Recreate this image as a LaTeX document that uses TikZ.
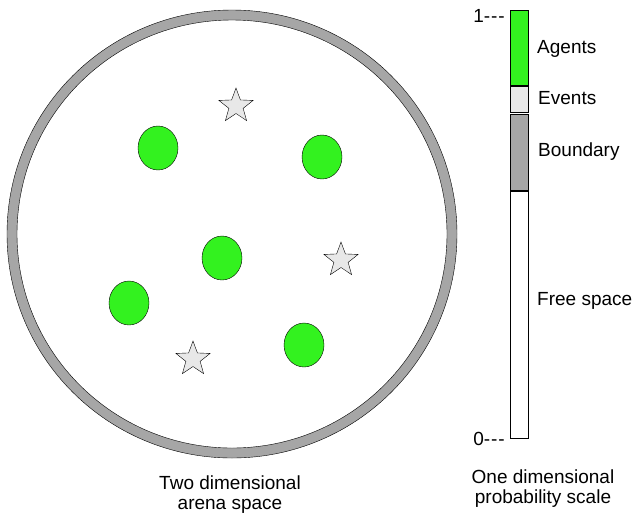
\documentclass[tikz,border=0pt]{standalone}
\usepackage{fontspec}
\setmainfont{Liberation Sans}
\usetikzlibrary{shapes.geometric,positioning}
\definecolor{agentgreen}{HTML}{33F21F}
\definecolor{eventgray}{HTML}{E8E8E8}
\definecolor{wallgray}{HTML}{A6A6A6}
\newcommand{\tick}{{-}\kern1pt{-}\kern1pt{-}}

\begin{document}
\begin{tikzpicture}[
  x=1pt, y=-1pt,
  node distance=1pt,
  agent/.style={ellipse, draw, fill=agentgreen, minimum width=40pt,
    minimum height=44pt, inner sep=0pt},
  event/.style={star, star points=5, star point ratio=2.4, draw,
    fill=eventgray, minimum size=36pt, inner sep=0pt},
  seg/.style={rectangle, draw, minimum width=18pt, inner sep=0pt},
  lbl/.style={font=\fontsize{19}{20}\selectfont, inner sep=0pt},
  caption/.style={lbl, align=center}
]
\useasboundingbox (0,0) rectangle (636,520);
% arena with its boundary ring
\draw[fill=wallgray, even odd rule] (232,234) ellipse [x radius=225, y radius=224]
  (232,234) ellipse [x radius=215, y radius=214];
\node[agent] (a1) at (158,148) {};
\node[agent] (a2) at (322,157) {};
\node[agent] (a3) at (222,258) {};
\node[agent] (a4) at (129,303) {};
\node[agent] (a5) at (304,345) {};
\node[event] (e1) at (236,106) {};
\node[event] (e2) at (341,260) {};
\node[event] (e3) at (193,359) {};
% probability scale
\node[seg, fill=agentgreen, minimum height=75pt, anchor=north] (sAgents) at (519,10) {};
\node[seg, fill=eventgray, minimum height=26pt, below=of sAgents] (sEvents) {};
\node[seg, fill=wallgray, minimum height=76pt, below=of sEvents] (sBoundary) {};
\node[seg, fill=white, minimum height=247pt, below=of sBoundary] (sFree) {};
\node[lbl, anchor=west] (lAgents) at (537,49) {Agents};
\node[lbl, anchor=west] (lEvents) at (538,98) {Events};
\node[lbl, anchor=west] (lBoundary) at (538,152) {Boundary};
\node[lbl, anchor=west] (lFree) at (537,301) {Free space};
\node[lbl, anchor=east] (top) at (505,16) {1\tick};
\node[lbl, anchor=east] (bottom) at (505,439) {0\tick};
\node[caption] (arenacap) at (230,495) {Two dimensional\\arena space};
\node[caption] (scalecap) at (543,489) {One dimensional\\probability scale};
\end{tikzpicture}
\end{document}
